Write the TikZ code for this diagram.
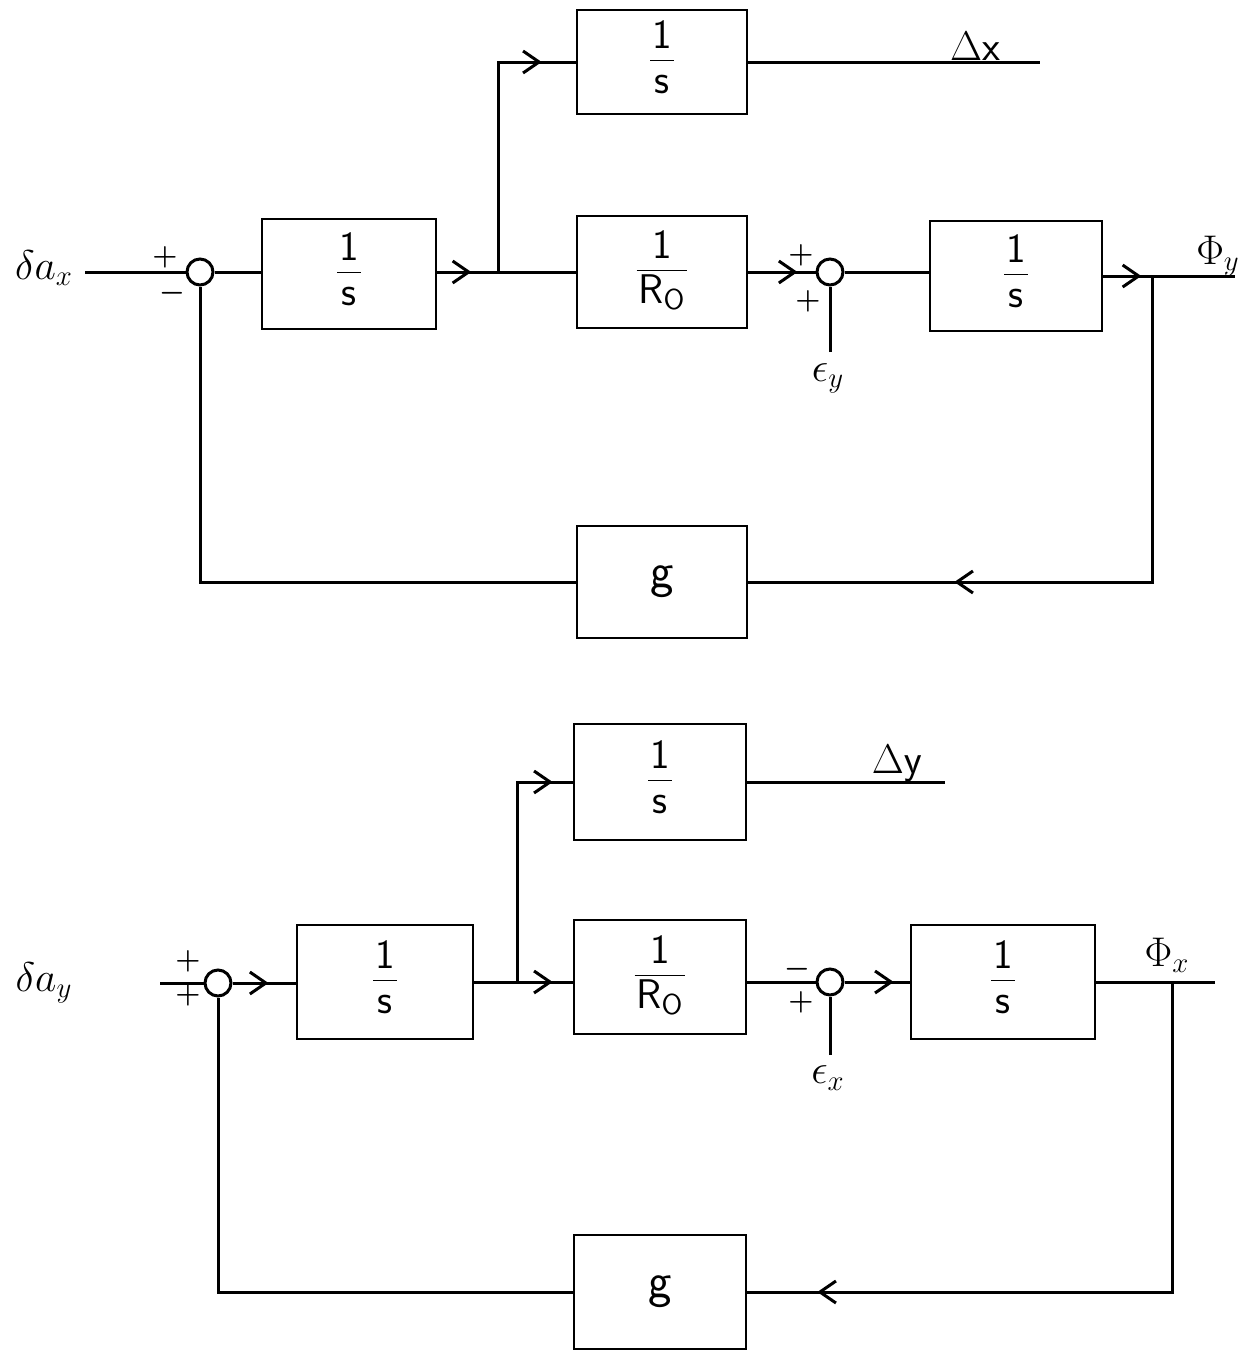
\documentclass[tikz,border=0pt]{standalone}
\usepackage{amsmath}
\usepackage{amssymb}
\usepackage{bm}
\usepackage{tikz}
\usetikzlibrary{calc}
\usetikzlibrary{arrows.meta, decorations.markings}

\tikzset{
  blk/.style={draw, line width=1.3pt, inner sep=0pt, font=\huge\sffamily},
  sumj/.style={draw, circle, line width=1.5pt, minimum size=13pt, inner sep=0pt},
  wire/.style={line width=1.5pt},
  sgn/.style={font=\Large, inner sep=0pt},
  lbl/.style={font=\huge, inner sep=0pt},
  arrat/.style={postaction={decorate}, decoration={markings,
    mark=at position #1 with {\arrow[line width=1.5pt]{Straight Barb[length=8pt,width=11pt]}}}}
}
\newcommand{\frc}[2]{\renewcommand{\arraystretch}{0.9}\setlength{\tabcolsep}{1pt}%
  \begin{tabular}{c}#1\\[-1pt]\hline\rule{0pt}{16pt}#2\end{tabular}}
\newcommand{\pl}{$\bm{+}$}
\newcommand{\mn}{$\bm{-}$}

\begin{document}
\begin{tikzpicture}[x=0.5pt,y=-0.5pt]
\useasboundingbox (0,0) rectangle (1253,1362);
% Drawing blocks, upper loop
\node[blk, minimum width=85pt, minimum height=52pt] (A1) at (662,62) {\frc{1}{s}};
\node[blk, minimum width=87pt, minimum height=55pt] (B1) at (349,274) {\frc{1}{s}};
\node[blk, minimum width=85pt, minimum height=56pt] (C1) at (662,272) {\frc{1}{R\textsubscript{O}}};
\node[blk, minimum width=86pt, minimum height=55pt] (D1) at (1016,276) {\frc{1}{s}};
\node[blk, minimum width=85pt, minimum height=56pt, font=\Huge\sffamily] (G1) at (662,582) {g};
\node[sumj] (S1) at (200,272) {};
\node[sumj] (S2) at (830,272) {};
% Line 1: inputs and outputs
\coordinate (in1) at (85,272);
\coordinate (ey) at (830,352);
\coordinate (out1) at (1235,276);
\coordinate (dx) at (1040,62);
\coordinate (br1) at (498,272);
\coordinate (fb1) at (1152,276);
\node[lbl] (lax) at (44,268) {$\delta a_x$};
\node[lbl] (ley) at (828,378) {$\epsilon_y$};
\node[lbl] (lpy) at (1218,256) {$\Phi_y$};
\node[lbl] (ldx) at (975,46) {$\Delta\mathsf{x}$};
\node[sgn] at (165,257) {\pl};
\node[sgn] at (172,293) {\mn};
\node[sgn] at (801,255) {\pl};
\node[sgn] at (808,301) {\pl};
% Done with blocks; drawing wires
\draw[wire] (in1) -- (S1.west);
\draw[wire] (S1.east) -- (S1.east -| B1.west);
\draw[wire, arrat=17pt] (B1.east |- br1) -- (C1.west);
\draw[wire, arrat=-17pt] (br1) |- (A1.west);
\draw[wire] (A1.east) -- (dx);
\draw[wire, arrat=-9pt] (C1.east) -- (S2.west);
\draw[wire] (ey) -- (S2.south);
\draw[wire] (S2.east) -- (S2.east -| D1.west);
\draw[wire, arrat=19pt] (D1.east) -- (out1);
\draw[wire, arrat=-103pt] (fb1) |- (G1.east);
\draw[wire] (G1.west) -| (S1.south);

% Drawing blocks, lower loop
\node[blk, minimum width=86pt, minimum height=58pt] (A2) at (660,782) {\frc{1}{s}};
\node[blk, minimum width=88pt, minimum height=57pt] (B2) at (385,982) {\frc{1}{s}};
\node[blk, minimum width=86pt, minimum height=57pt] (C2) at (660,977) {\frc{1}{R\textsubscript{O}}};
\node[blk, minimum width=92pt, minimum height=57pt] (D2) at (1003,982) {\frc{1}{s}};
\node[blk, minimum width=86pt, minimum height=57pt, font=\Huge\sffamily] (G2) at (660,1292) {g};
\node[sumj] (S3) at (218,983) {};
\node[sumj] (S4) at (830,982) {};
% Line 2: inputs and outputs
\coordinate (in2) at (160,983);
\coordinate (ex) at (830,1055);
\coordinate (out2) at (1215,982);
\coordinate (dy) at (945,782);
\coordinate (br2) at (517,982);
\coordinate (fb2) at (1172,982);
\node[lbl] (lay) at (44,983) {$\delta a_y$};
\node[lbl] (lex) at (828,1078) {$\epsilon_x$};
\node[lbl] (lpx) at (1167,955) {$\Phi_x$};
\node[lbl] (ldy) at (897,763) {$\Delta\mathsf{y}$};
\node[sgn] at (188,961) {\pl};
\node[sgn] at (188,995) {\pl};
\node[sgn] at (797,969) {\mn};
\node[sgn] at (801,1002) {\pl};
% Done with blocks; drawing wires
\draw[wire] (in2) -- (S3.west);
\draw[wire, arrat=18pt] (S3.east) -- (S3.east -| B2.west);
\draw[wire, arrat=-10pt] (B2.east |- br2) -- (C2.west |- br2);
\draw[wire, arrat=-10pt] (br2) |- (A2.west);
\draw[wire] (A2.east) -- (dy);
\draw[wire] (C2.east |- S4) -- (S4.west);
\draw[wire] (ex) -- (S4.south);
\draw[wire, arrat=-8pt] (S4.east) -- (S4.east -| D2.west);
\draw[wire] (D2.east) -- (out2);
\draw[wire, arrat=-35pt] (fb2) |- (G2.east);
\draw[wire] (G2.west) -| (S3.south);
\end{tikzpicture}
\end{document}
